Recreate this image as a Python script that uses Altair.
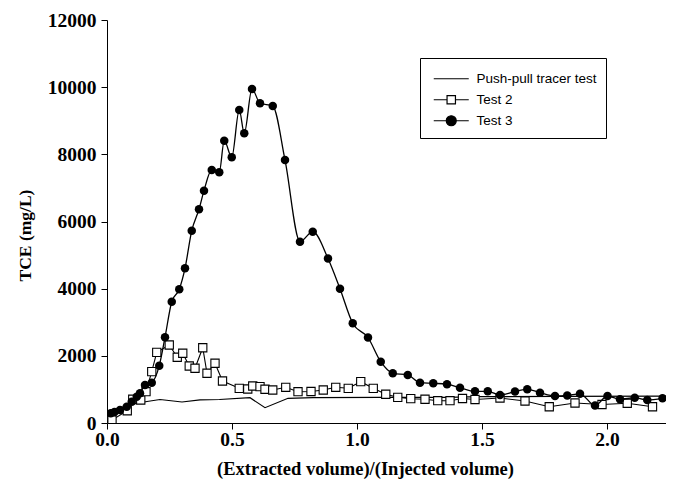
import altair as alt
import pandas as pd

# ---- data ----
series_names = ["Push-pull tracer test", "Test 2", "Test 3"]

pp_x = [0.0, 0.012, 0.05, 0.104, 0.16, 0.212, 0.30, 0.372, 0.45, 0.572, 0.632, 0.724, 0.824, 1.092, 1.359, 1.492, 1.8, 2.268]
pp_y = [230, 260, 420, 560, 640, 700, 625, 690, 700, 753, 456, 736, 753, 765, 765, 783, 790, 804]

t2_x = [0.02, 0.081, 0.103, 0.135, 0.156, 0.179, 0.199, 0.249, 0.281, 0.303, 0.329, 0.352, 0.383, 0.40,
        0.432, 0.462, 0.529, 0.563, 0.583, 0.612, 0.632, 0.663, 0.715, 0.764, 0.816, 0.865, 0.915, 0.965,
        1.015, 1.065, 1.115, 1.163, 1.215, 1.272, 1.323, 1.372, 1.422, 1.472, 1.572, 1.672, 1.769, 1.872,
        1.98, 2.081, 2.182]
t2_y = [90, 366, 706, 685, 932, 1528, 2105, 2323, 1957, 2076, 1697, 1629, 2242, 1480,
        1778, 1251, 1033, 1013, 1102, 1081, 1004, 983, 1063, 932, 938, 983, 1063, 1033,
        1230, 1033, 855, 765, 724, 706, 664, 664, 730, 700, 745, 655, 485, 596,
        551, 587, 485]

t3_x = [0.015, 0.03, 0.052, 0.079, 0.099, 0.119, 0.132, 0.152, 0.179, 0.209, 0.232, 0.259, 0.289, 0.312,
        0.339, 0.368, 0.388, 0.419, 0.449, 0.469, 0.499, 0.529, 0.549, 0.58, 0.612, 0.663, 0.712, 0.772,
        0.823, 0.884, 0.932, 0.983, 1.044, 1.095, 1.143, 1.203, 1.252, 1.305, 1.36, 1.412, 1.472, 1.523,
        1.572, 1.632, 1.681, 1.732, 1.792, 1.841, 1.892, 1.952, 2.002, 2.052, 2.111, 2.161, 2.222]
t3_y = [289, 330, 387, 485, 634, 783, 884, 1132, 1200, 1706, 2552, 3612, 3982, 4607,
        5727, 6364, 6918, 7535, 7466, 8407, 7912, 9321, 8627, 9947, 9521, 9440, 7832, 5399,
        5697, 4899, 4000, 2969, 2546, 1825, 1480, 1430, 1200, 1182, 1155, 1051, 944, 944,
        834, 938, 1004, 902, 804, 819, 870, 521, 804, 706, 753, 685, 736]

x_ticks = [0.0, 0.5, 1.0, 1.5, 2.0]
y_ticks = [0, 2000, 4000, 6000, 8000, 10000, 12000]
x_domain = [0, 2.236]
y_domain = [0, 12000]

pp = pd.DataFrame({"x": pp_x, "y": pp_y})
t2 = pd.DataFrame({"x": t2_x, "y": t2_y})
t3 = pd.DataFrame({"x": t3_x, "y": t3_y})
leg = pd.DataFrame({"series": series_names})

serif = "Liberation Serif"
sans = "Liberation Sans"

X = alt.X("x:Q", scale=alt.Scale(domain=x_domain, nice=False, zero=False),
          axis=alt.Axis(values=x_ticks, format=".1f", title="(Extracted volume)/(Injected volume)",
                        titleX=258, titleY=51, titleBaseline="alphabetic", titleAlign="center",
                        titleFontSize=18.5, labelPadding=1, labelFlush=False))
Y = alt.Y("y:Q", scale=alt.Scale(domain=y_domain, nice=False),
          axis=alt.Axis(values=y_ticks, format="d", title="TCE (mg/L)",
                        titleX=-82, titleY=215, titleAngle=270, titleBaseline="middle",
                        titleAlign="center", labelPadding=5))

line_pp = alt.Chart(pp).mark_line(color="black", strokeWidth=1.2, clip=True).encode(x=X, y=Y)
line_t2 = alt.Chart(t2).mark_line(color="black", strokeWidth=1.1, clip=True).encode(x=X, y=Y)
pts_t2 = alt.Chart(t2).mark_point(shape="square", size=68, fill="white", stroke="black",
                                  strokeWidth=1.1, opacity=1, filled=True, clip=True).encode(x=X, y=Y)
line_t3 = alt.Chart(t3).mark_line(color="black", strokeWidth=1.3, interpolate="monotone",
                                  clip=True).encode(x=X, y=Y)
pts_t3 = alt.Chart(t3).mark_circle(size=72, color="black", opacity=1, clip=True).encode(x=X, y=Y)

# legend symbols: unit = sqrt(symbolSize)/2 = 5px; a 35px line with the marker in its middle
symbol_paths = [
    "M-0.4,0H6.6",
    "M-0.4,0H2.26M3.94,0H6.6M2.26,-0.84H3.94V0.84H2.26Z",
    "M-0.4,0H6.6M4.1,0A1,1 0 1,1 2.1,0A1,1 0 1,1 4.1,0Z",
]
legend_def = alt.Legend(title=" ", titleFontSize=3, titlePadding=2,
                        orient="none", legendX=313, legendY=38,
                        strokeColor="black", fillColor="white", padding=9, cornerRadius=0,
                        symbolSize=100, symbolStrokeColor="black", symbolStrokeWidth=1.2,
                        labelFont=sans, labelFontSize=13.5, labelColor="black",
                        labelOffset=34, rowPadding=6)
legend_layer = alt.Chart(leg).transform_filter("false").mark_point(
    strokeWidth=1.2, opacity=1).encode(
    shape=alt.Shape("series:N", scale=alt.Scale(domain=series_names, range=symbol_paths), legend=legend_def),
    fill=alt.Fill("series:N", scale=alt.Scale(domain=series_names, range=["transparent", "white", "black"]),
                  legend=legend_def),
    stroke=alt.Stroke("series:N", scale=alt.Scale(domain=series_names, range=["black", "black", "black"]),
                      legend=legend_def),
)

chart = alt.layer(line_pp, line_t2, pts_t2, line_t3, pts_t3, legend_layer).properties(
    width=559, height=403,
    autosize=alt.AutoSizeParams(type="none"),
    padding={"left": 99, "top": 12, "right": 0, "bottom": 60},
).configure_view(stroke=None).configure_axis(
    grid=False, domainColor="black", domainWidth=1, tickColor="black", tickSize=6, tickWidth=1,
    labelFont=serif, labelFontWeight="bold", labelFontSize=19.5, labelColor="black",
    titleFont=serif, titleFontWeight="bold", titleFontSize=17.5, titleColor="black",
)

chart.save("out.html", embed_options={"renderer": "svg", "actions": False})
